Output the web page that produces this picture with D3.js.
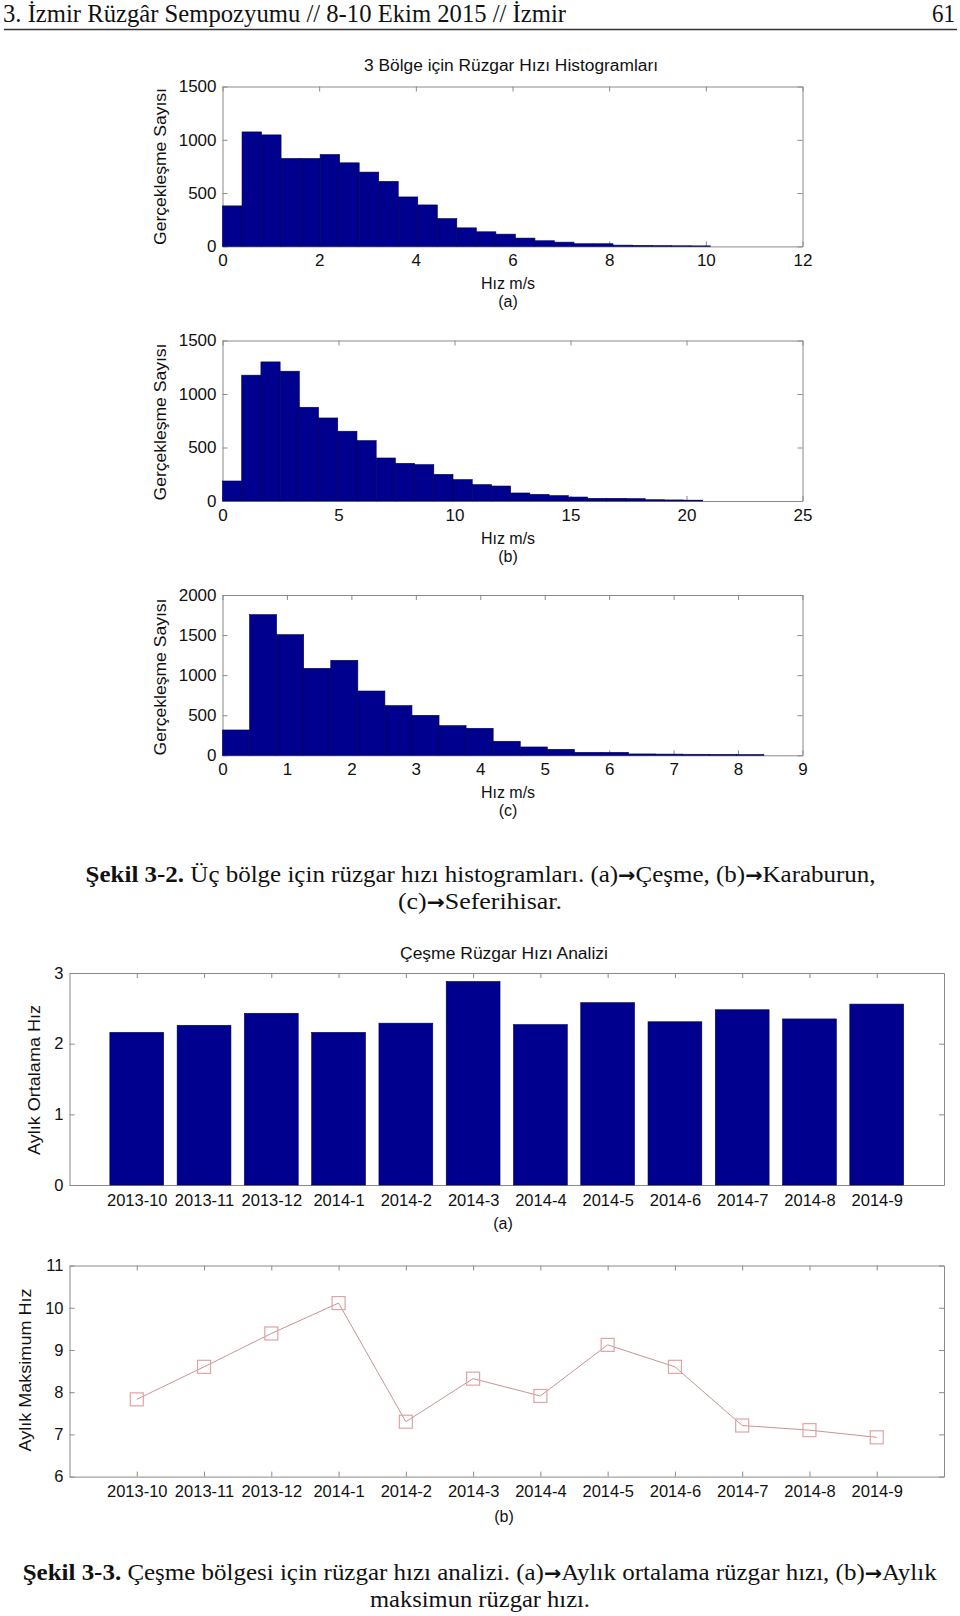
<!DOCTYPE html>
<html><head><meta charset="utf-8">
<script src="https://cdn.jsdelivr.net/npm/d3@7"></script>
<style>body{margin:0;background:#fff} svg{display:block}</style>
</head><body>
<svg id="c" width="960" height="1616"></svg>
<script>
// ---------------- data ----------------
const histA_counts = [380,1074,1046,825,825,862,784,697,610,464,389,261,174,137,115,78,53,40,25,25,12,10,8,6,5];
const histA_range = [0, 10.1];
const histA_xticks = [0,2,4,6,8,10,12];
const histA_yticks = [0,500,1000,1500];

const histB_counts = [187,1176,1300,1213,876,776,652,564,402,352,340,249,200,153,140,75,62,50,37,25,25,22,12,10,8];
const histB_range = [0, 20.7];
const histB_xticks = [0,5,10,15,20,25];
const histB_yticks = [0,500,1000,1500];

const histC_counts = [316,1755,1505,1085,1185,802,620,499,370,337,175,104,75,37,37,17,15,13,12,10];
const histC_range = [0, 8.4];
const histC_xticks = [0,1,2,3,4,5,6,7,8,9];
const histC_yticks = [0,500,1000,1500,2000];

const months = ["2013-10","2013-11","2013-12","2014-1","2014-2","2014-3","2014-4","2014-5","2014-6","2014-7","2014-8","2014-9"];
const meanSpeed = [2.16,2.26,2.43,2.16,2.29,2.88,2.27,2.58,2.31,2.48,2.35,2.56];
const maxSpeed = [7.83,8.60,9.39,10.11,7.30,8.32,7.91,9.12,8.60,7.21,7.10,6.93];
const meanYTicks = [0,1,2,3];
const maxYTicks = [6,7,8,9,10,11];

// ---------------- drawing ----------------
const svg = d3.select("#c");
svg.append("rect").attr("width",960).attr("height",1616).attr("fill","#fff");
const SANS = "'Liberation Sans', Arial, Helvetica, sans-serif";
const SERIF = "'Liberation Serif', 'Times New Roman', Times, serif";
const AX = "#8a8a8a";
const BAR = "#00008f";

// header
svg.append("text").attr("x",3).attr("y",22).attr("font-family",SERIF).attr("font-size",25)
  .attr("textLength",563).attr("lengthAdjust","spacingAndGlyphs").attr("fill","#111")
  .text("3. İzmir Rüzgâr Sempozyumu // 8-10 Ekim 2015 // İzmir");
svg.append("text").attr("x",955).attr("y",22).attr("font-family",SERIF).attr("font-size",25)
  .attr("text-anchor","end").attr("fill","#111").attr("textLength",23).attr("lengthAdjust","spacingAndGlyphs").text("61");
svg.append("line").attr("x1",4).attr("x2",957).attr("y1",29.5).attr("y2",29.5)
  .attr("stroke","#333").attr("stroke-width",1.4);

function styleAxis(g){
  g.selectAll("path.domain").attr("stroke",AX).attr("stroke-width",1);
  g.selectAll(".tick line").attr("stroke",AX).attr("stroke-width",1);
  g.selectAll(".tick text").attr("font-family",SANS).attr("fill","#111");
}

function box(g, x, y, xTicks, yTicks, fs, xFmt, padX, padY){
  const [l,r] = x.range(), [b,t] = y.range();
  const gb = g.append("g").attr("transform",`translate(0,${b})`)
    .call(d3.axisBottom(x).tickValues(xTicks).tickSizeInner(-5).tickSizeOuter(0).tickPadding(padX).tickFormat(xFmt));
  const gt = g.append("g").attr("transform",`translate(0,${t})`)
    .call(d3.axisTop(x).tickValues(xTicks).tickSizeInner(-5).tickSizeOuter(0).tickFormat(""));
  const gl = g.append("g").attr("transform",`translate(${l},0)`)
    .call(d3.axisLeft(y).tickValues(yTicks).tickSizeInner(-5).tickSizeOuter(0).tickPadding(padY).tickFormat(d3.format("d")));
  const gr = g.append("g").attr("transform",`translate(${r},0)`)
    .call(d3.axisRight(y).tickValues(yTicks).tickSizeInner(-5).tickSizeOuter(0).tickFormat(""));
  [gb,gt,gl,gr].forEach(styleAxis);
  gb.selectAll(".tick text").attr("font-size",fs);
  gl.selectAll(".tick text").attr("font-size",fs);
}

function hist(cfg){
  const g = svg.append("g");
  const x = d3.scaleLinear().domain([cfg.xticks[0], cfg.xticks[cfg.xticks.length-1]]).range([222.5, 802.5]);
  const y = d3.scaleLinear().domain([0, cfg.yticks[cfg.yticks.length-1]]).range([cfg.bottom, cfg.top]);
  box(g, x, y, cfg.xticks, cfg.yticks, 17, d3.format("d"), 8, 6);
  const w = (cfg.range[1]-cfg.range[0]) / cfg.counts.length;
  g.append("g").selectAll("rect").data(cfg.counts).join("rect")
    .attr("x",(d,i)=>x(cfg.range[0]+i*w))
    .attr("width",(d,i)=>x(cfg.range[0]+(i+1)*w)-x(cfg.range[0]+i*w))
    .attr("y",d=>y(d)).attr("height",d=>y(0)-y(d))
    .attr("fill",BAR).attr("stroke","#000050").attr("stroke-width",0.6);
  const cy = cfg.ylabelC;
  g.append("text").attr("transform",`translate(166,${cy}) rotate(-90)`)
    .attr("text-anchor","middle").attr("font-family",SANS).attr("font-size",17).attr("fill","#111")
    .attr("textLength",157).attr("lengthAdjust","spacingAndGlyphs").text("Gerçekleşme Sayısı");
  g.append("text").attr("x",508).attr("y",cfg.xlabelY).attr("text-anchor","middle")
    .attr("font-family",SANS).attr("font-size",16).attr("fill","#111").text("Hız m/s");
  g.append("text").attr("x",508).attr("y",cfg.xlabelY+18).attr("text-anchor","middle")
    .attr("font-family",SANS).attr("font-size",16).attr("fill","#111").text(cfg.sub);
  if (cfg.title) {
    g.append("text").attr("x",511).attr("y",71).attr("text-anchor","middle")
      .attr("font-family",SANS).attr("font-size",16).attr("fill","#111")
      .attr("textLength",294).attr("lengthAdjust","spacingAndGlyphs").text(cfg.title);
  }
}

hist({counts:histA_counts, range:histA_range, xticks:histA_xticks, yticks:histA_yticks,
      top:86.5, bottom:246.4, ylabelC:166.5, xlabelY:289, sub:"(a)",
      title:"3 Bölge için Rüzgar Hızı Histogramları"});
hist({counts:histB_counts, range:histB_range, xticks:histB_xticks, yticks:histB_yticks,
      top:340.5, bottom:501, ylabelC:422, xlabelY:544, sub:"(b)"});
hist({counts:histC_counts, range:histC_range, xticks:histC_xticks, yticks:histC_yticks,
      top:595, bottom:755.3, ylabelC:677, xlabelY:798, sub:"(c)"});

// captions
function caption(x, y, len, bold, rest){
  const t = svg.append("text").attr("x",x).attr("y",y).attr("font-family",SERIF).attr("font-size",24)
    .attr("fill","#111").attr("textLength",len).attr("lengthAdjust","spacingAndGlyphs");
  if (bold) t.append("tspan").attr("font-weight","bold").text(bold);
  rest.forEach(p=>{
    const s = t.append("tspan").text(p.t);
    if (p.arrow) s.attr("font-family","'DejaVu Sans', sans-serif").attr("font-weight","bold").attr("font-size",20);
  });
}
caption(85.6, 882, 790, "Şekil 3-2.", [
  {t:" Üç bölge için rüzgar hızı histogramları. (a)"},{t:"→",arrow:true},{t:"Çeşme, (b)"},
  {t:"→",arrow:true},{t:"Karaburun,"}]);
caption(398, 909, 164, null, [{t:"(c)"},{t:"→",arrow:true},{t:"Seferihisar."}]);

// monthly charts
const xM = d3.scaleLinear().domain([0, months.length+1]).range([69.5, 944]);
const monthFmt = i => months[i-1];
const monthIdx = months.map((m,i)=>i+1);

// (a) mean bars
{
  const g = svg.append("g");
  const y = d3.scaleLinear().domain([meanYTicks[0], meanYTicks[meanYTicks.length-1]]).range([1185, 973]);
  box(g, xM, y, monthIdx, meanYTicks, 16.5, monthFmt, 9, 6);
  const bw = 0.8;
  g.append("g").selectAll("rect").data(meanSpeed).join("rect")
    .attr("x",(d,i)=>xM(i+1-bw/2)).attr("width",xM(bw)-xM(0))
    .attr("y",d=>y(d)).attr("height",d=>y(0)-y(d))
    .attr("fill",BAR).attr("stroke","#000050").attr("stroke-width",0.6);
  g.append("text").attr("x",504).attr("y",959).attr("text-anchor","middle")
    .attr("font-family",SANS).attr("font-size",16).attr("fill","#111")
    .attr("textLength",208).attr("lengthAdjust","spacingAndGlyphs").text("Çeşme Rüzgar Hızı Analizi");
  g.append("text").attr("transform",`translate(40,1080) rotate(-90)`).attr("text-anchor","middle")
    .attr("font-family",SANS).attr("font-size",17).attr("fill","#111")
    .attr("textLength",150).attr("lengthAdjust","spacingAndGlyphs").text("Aylık Ortalama Hız");
  g.append("text").attr("x",503).attr("y",1229).attr("text-anchor","middle")
    .attr("font-family",SANS).attr("font-size",16).attr("fill","#111").text("(a)");
}

// (b) max line
{
  const g = svg.append("g");
  const y = d3.scaleLinear().domain([maxYTicks[0], maxYTicks[maxYTicks.length-1]]).range([1476.6, 1265.5]);
  box(g, xM, y, monthIdx, maxYTicks, 16.5, monthFmt, 9, 6);
  const line = d3.line().x((d,i)=>xM(i+1)).y(d=>y(d));
  g.append("path").datum(maxSpeed).attr("d",line).attr("fill","none")
    .attr("stroke","#c99494").attr("stroke-width",1);
  const s = 13;
  g.append("g").selectAll("rect").data(maxSpeed).join("rect")
    .attr("x",(d,i)=>xM(i+1)-s/2).attr("y",d=>y(d)-s/2).attr("width",s).attr("height",s)
    .attr("fill","none").attr("stroke","#e0a4a4").attr("stroke-width",1.2);
  g.append("text").attr("transform",`translate(31,1370) rotate(-90)`).attr("text-anchor","middle")
    .attr("font-family",SANS).attr("font-size",17).attr("fill","#111")
    .attr("textLength",163).attr("lengthAdjust","spacingAndGlyphs").text("Aylık Maksimum Hız");
  g.append("text").attr("x",504).attr("y",1522).attr("text-anchor","middle")
    .attr("font-family",SANS).attr("font-size",16).attr("fill","#111").text("(b)");
}

caption(22.7, 1580, 914, "Şekil 3-3.", [
  {t:" Çeşme bölgesi için rüzgar hızı analizi. (a)"},{t:"→",arrow:true},{t:"Aylık ortalama rüzgar hızı, (b)"},
  {t:"→",arrow:true},{t:"Aylık"}]);
caption(370, 1607, 220, null, [{t:"maksimun rüzgar hızı."}]);
</script>
</body></html>
